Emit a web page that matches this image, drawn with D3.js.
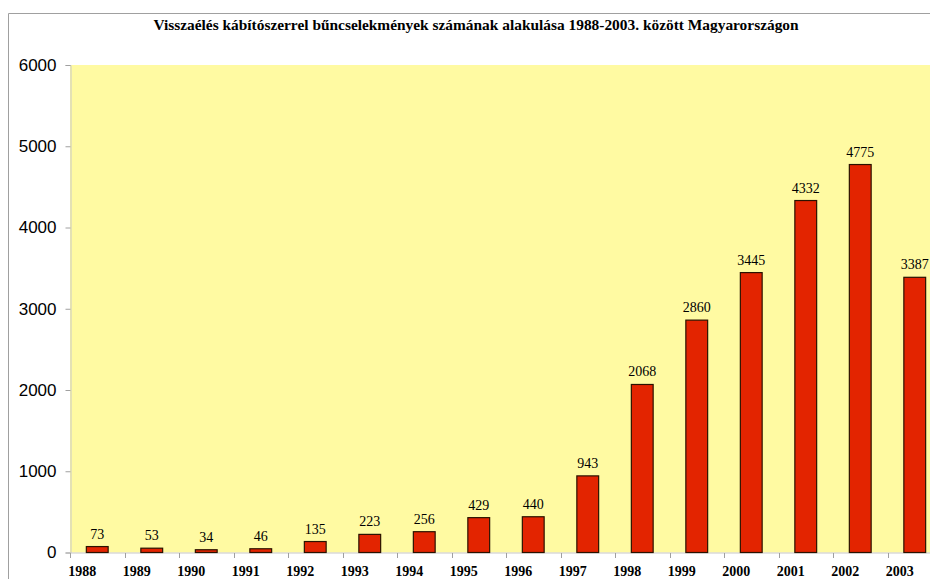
<!DOCTYPE html>
<html>
<head>
  <meta charset="utf-8">
  <script src="https://d3js.org/d3.v7.min.js"></script>
  <style>
    body { margin: 0; background: #fff; }
    .title { font-family: "Liberation Serif", "Times New Roman", serif; font-weight: bold; font-size: 15.4px; }
    .ylab { font-family: "Liberation Sans", Arial, sans-serif; font-size: 17px; }
    .xlab { font-family: "Liberation Serif", "Times New Roman", serif; font-weight: bold; font-size: 14px; }
    .val { font-family: "Liberation Serif", "Times New Roman", serif; font-size: 14px; }
  </style>
</head>
<body>
<script>
  var years = ["1988", "1989", "1990", "1991", "1992", "1993", "1994", "1995",
               "1996", "1997", "1998", "1999", "2000", "2001", "2002", "2003"];
  var cases = [73, 53, 34, 46, 135, 223, 256, 429, 440, 943, 2068, 2860, 3445, 4332, 4775, 3387];
  var yTicks = [0, 1000, 2000, 3000, 4000, 5000, 6000];

  var width = 930,
      height = 579;

  var plotLeft = 70, plotTop = 65, plotBottom = 552.5;
  var bandW = 54.5;

  var svg = d3.select("body")
      .append("svg")
      .attr("width", width)
      .attr("height", height);

  // outer frame (right side is cut off in the original)
  svg.append("path")
      .attr("d", "M8.5," + height + "V13.5H" + width)
      .attr("fill", "none")
      .attr("stroke", "#a0a0a0");

  svg.append("text")
      .attr("class", "title")
      .attr("x", 476)
      .attr("y", 30)
      .attr("text-anchor", "middle")
      .text("Visszaélés kábítószerrel bűncselekmények számának alakulása 1988-2003. között Magyarországon");

  var x = d3.scaleBand()
      .domain(years)
      .range([plotLeft, plotLeft + bandW * years.length])
      .paddingInner(0.6)
      .paddingOuter(0.3);

  var y = d3.scaleLinear()
      .domain([0, 6000])
      .range([plotBottom, plotTop]);

  // plot area
  svg.append("rect")
      .attr("x", plotLeft)
      .attr("y", plotTop)
      .attr("width", width - plotLeft)
      .attr("height", plotBottom - plotTop)
      .attr("fill", "#fffaa2");

  // y axis
  var yAxis = svg.append("g")
      .attr("transform", "translate(" + (plotLeft + 0.5) + ",0)")
      .call(d3.axisLeft(y).tickValues(yTicks).tickSize(5).tickPadding(9).tickFormat(d3.format("d")));
  yAxis.select(".domain").attr("stroke", "#c8c8c8");
  yAxis.selectAll(".tick line").attr("stroke", "#a0a0a0");
  yAxis.selectAll(".tick text").attr("class", "ylab").attr("fill", "#000");
  yAxis.attr("font-family", null).attr("font-size", null);

  // x axis
  var band = d3.scalePoint()
      .domain(d3.range(years.length + 1))
      .range([plotLeft, plotLeft + bandW * years.length]);
  var xAxis = svg.append("g")
      .attr("transform", "translate(0," + (plotBottom + 0.5) + ")");
  xAxis.append("line")
      .attr("x1", plotLeft).attr("x2", width)
      .attr("stroke", "#c8c8c8");
  xAxis.selectAll(".tk")
      .data(band.domain())
      .enter().append("line")
      .attr("class", "tk")
      .attr("x1", function(d) { return Math.round(band(d)) + 0.5; })
      .attr("x2", function(d) { return Math.round(band(d)) + 0.5; })
      .attr("y1", 0).attr("y2", 5)
      .attr("stroke", "#a0a0a0");

  svg.selectAll(".xlab")
      .data(years)
      .enter().append("text")
      .attr("class", "xlab")
      .attr("x", function(d) { return x(d) + x.bandwidth() / 2 - 15; })
      .attr("y", 576)
      .attr("text-anchor", "middle")
      .text(function(d) { return d; });

  // bars
  svg.selectAll(".bar")
      .data(cases)
      .enter().append("rect")
      .attr("class", "bar")
      .attr("x", function(d, i) { return x(years[i]); })
      .attr("y", function(d) { return y(d); })
      .attr("width", x.bandwidth())
      .attr("height", function(d) { return plotBottom - y(d); })
      .attr("fill", "#e32400")
      .attr("stroke", "#2a1200")
      .attr("stroke-width", 1.2);

  svg.selectAll(".val")
      .data(cases)
      .enter().append("text")
      .attr("class", "val")
      .attr("x", function(d, i) { return x(years[i]) + x.bandwidth() / 2; })
      .attr("y", function(d) { return y(d) - 8; })
      .attr("text-anchor", "middle")
      .text(function(d) { return d; });
</script>
</body>
</html>
